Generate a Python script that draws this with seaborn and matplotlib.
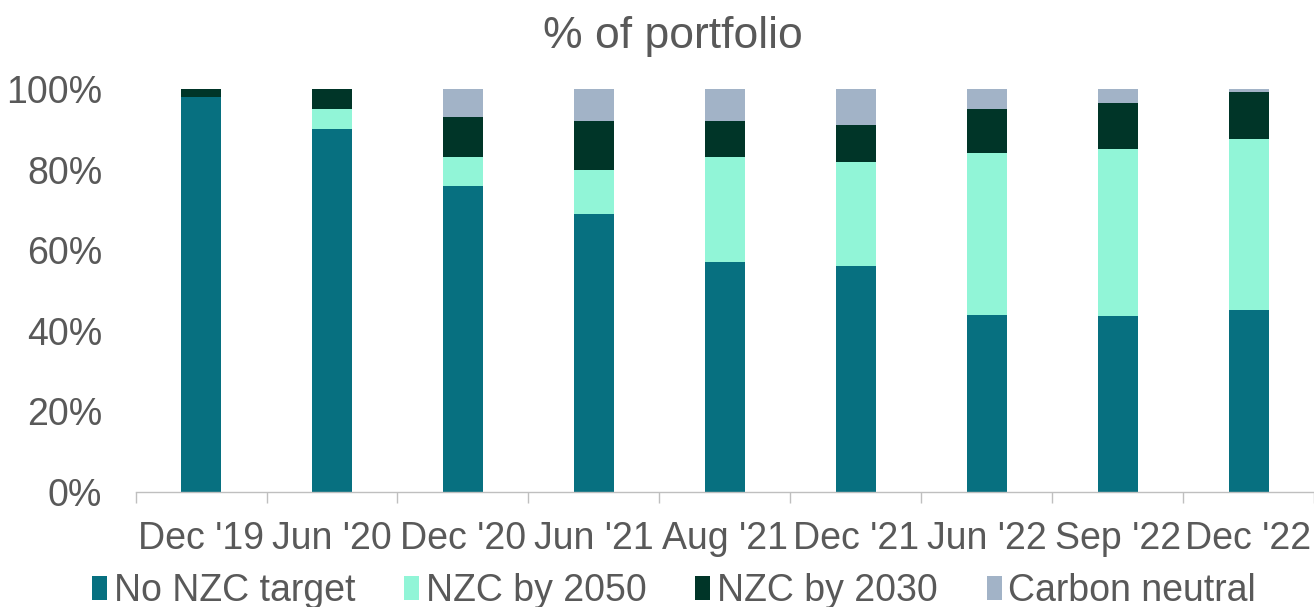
import numpy as np
import pandas as pd
import seaborn as sns
import matplotlib.pyplot as plt
from matplotlib.patches import Patch

# data (% of portfolio)
periods = ["Dec '19", "Jun '20", "Dec '20", "Jun '21", "Aug '21",
           "Dec '21", "Jun '22", "Sep '22", "Dec '22"]
no_nzc = [98, 90, 76, 69, 57, 56, 44, 43.7, 45.2]
nzc_2050 = [0, 5, 7, 11, 26, 26, 40, 41.5, 42.4]
nzc_2030 = [2, 5, 10, 12, 9, 9, 11, 11.4, 11.6]
carbon_neutral = [0, 0, 7, 8, 8, 9, 5, 3.4, 0.8]

series_names = ["No NZC target", "NZC by 2050", "NZC by 2030", "Carbon neutral"]
colors = ["#077080", "#91F5D7", "#003528", "#A2B3C7"]

sns.set_theme(style="white")
plt.rcParams["font.family"] = ["Liberation Sans", "DejaVu Sans"]
text_grey = "#595959"

df = pd.DataFrame({"period": periods, "No NZC target": no_nzc,
                   "NZC by 2050": nzc_2050, "NZC by 2030": nzc_2030,
                   "Carbon neutral": carbon_neutral})

# cumulative totals so overlaid bars look stacked
cum = df[series_names].cumsum(axis=1)

fig = plt.figure(figsize=(13.14, 6.07), dpi=100)
ax = fig.add_axes([0.1032, 0.1895, 0.8968, 0.6639])

# draw from the top layer down
for name, col in reversed(list(zip(series_names, colors))):
    sns.barplot(x=df["period"], y=cum[name], color=col, width=0.305,
                saturation=1, ax=ax, linewidth=0)

ax.set_ylim(0, 100)
ax.set_xlim(-0.5, len(periods) - 0.5)
ax.set_yticks(np.arange(0, 101, 20))
ax.set_yticklabels([f"{v}%" for v in range(0, 101, 20)])
ax.set_xlabel("")
ax.set_ylabel("")

ax.tick_params(axis="y", length=0, pad=24, labelsize=27, labelcolor=text_grey)
ax.tick_params(axis="x", which="major", length=0, pad=21, labelsize=27,
               labelcolor=text_grey)
ax.set_xticks(np.arange(-0.5, len(periods), 1.0), minor=True)
ax.tick_params(axis="x", which="minor", length=8, width=1, color="#BFBFBF",
               direction="out", bottom=True)

for side in ["top", "right", "left"]:
    ax.spines[side].set_visible(False)
ax.spines["bottom"].set_color("#BFBFBF")
ax.spines["bottom"].set_linewidth(1)

fig.text(0.5118, 0.94, "% of portfolio", ha="center", va="center",
         fontsize=32, color=text_grey)

handles = [Patch(facecolor=c, edgecolor="none") for c in colors]
fig.legend(handles, series_names, loc="center", bbox_to_anchor=(0.513, 0.026),
           ncol=4, frameon=False, fontsize=27, labelcolor=text_grey,
           handlelength=0.4, handleheight=0.6, handletextpad=0.18,
           columnspacing=1.3)

fig.savefig("out.png", dpi=100)
